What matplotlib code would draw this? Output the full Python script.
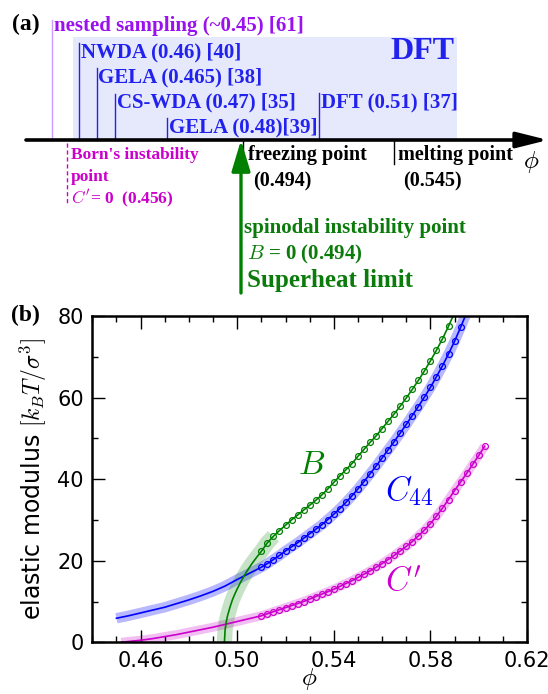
import matplotlib
matplotlib.use("Agg")
import matplotlib.pyplot as plt
from matplotlib.patches import Rectangle
from matplotlib.ticker import MultipleLocator

plt.rcParams['font.family'] = ['DejaVu Sans']
plt.rcParams['mathtext.fontset'] = 'cm'

# ---------------- data (panel b) ----------------
phi_grid = [0.5100, 0.5125, 0.5150, 0.5175, 0.5200, 0.5225, 0.5250, 0.5275,
            0.5300, 0.5325, 0.5350, 0.5375, 0.5400, 0.5425, 0.5450, 0.5475,
            0.5500, 0.5525, 0.5550, 0.5575, 0.5600, 0.5625, 0.5650, 0.5675,
            0.5700, 0.5725, 0.5750, 0.5775, 0.5800, 0.5825, 0.5850, 0.5875,
            0.5900, 0.5925, 0.5950, 0.5975, 0.6000, 0.6025]

B_circ = [22.3, 24.4, 26.0, 27.4, 28.7, 30.0, 31.2, 32.4, 33.6, 34.8, 36.1,
          37.6, 39.2, 40.8, 42.3, 43.8, 45.6, 47.3, 49.0, 50.6, 52.4, 54.2,
          56.0, 57.9, 59.9, 62.0, 64.2, 66.5, 69.0, 71.6, 74.4, 77.5]
C44_circ = [18.4, 19.3, 20.3, 21.3, 22.4, 23.4, 24.4, 25.5, 26.6, 27.7, 28.8,
            30.1, 31.4, 32.8, 34.3, 35.9, 37.6, 39.4, 41.3, 43.2, 45.2, 47.2,
            49.2, 51.3, 53.4, 55.6, 57.8, 60.1, 62.5, 65.1, 67.8, 70.7, 73.8,
            77.2]
Cp_circ = [6.5, 7.0, 7.5, 8.0, 8.5, 9.0, 9.5, 10.0, 10.6, 11.2, 11.8, 12.4,
           13.0, 13.7, 14.4, 15.1, 15.9, 16.7, 17.5, 18.4, 19.3, 20.3, 21.3,
           22.4, 23.5, 24.7, 26.1, 27.5, 29.1, 30.9, 32.9, 35.0, 37.2, 39.3,
           41.4, 43.6, 45.8, 48.1]

# extrapolated fit (below the first data point) and continuation past the top
B_ext_phi = [0.4947, 0.4950, 0.4955, 0.4960, 0.4970, 0.4980, 0.4990, 0.5000,
             0.5020, 0.5040, 0.5060, 0.5080]
B_ext = [0.0, 3.1, 5.1, 6.5, 8.6, 10.4, 11.8, 13.1, 15.4, 17.4, 19.2, 20.8]
C44_ext_phi = [0.450, 0.455, 0.460, 0.465, 0.470, 0.475, 0.480, 0.485, 0.490,
               0.495, 0.500, 0.505]
C44_ext = [5.9, 6.5, 7.2, 7.9, 8.6, 9.5, 10.4, 11.4, 12.5, 13.8, 15.4, 16.9]
Cp_ext_phi = [0.452, 0.455, 0.460, 0.465, 0.470, 0.475, 0.480, 0.485, 0.490,
              0.495, 0.500, 0.505]
Cp_ext = [0.0, 0.2, 0.5, 0.9, 1.4, 1.9, 2.5, 3.1, 3.7, 4.4, 5.1, 5.8]
B_top = ([0.5900], [80.8])
C44_top = ([0.5950], [80.8])

xticks = [0.46, 0.50, 0.54, 0.58, 0.62]
yticks = [0, 20, 40, 60, 80]

# ---------------- data (panel a, schematic) ----------------
dft_labels = ["NWDA (0.46) [40]", "GELA (0.465) [38]", "CS-WDA (0.47) [35]",
              "GELA (0.48)[39]", "DFT (0.51) [37]"]
nested_label = "nested sampling (~0.45) [61]"
born_lines = ["Born's instability", "point", "$C'$= 0  (0.456)"]
freeze_lines = ["freezing point", "(0.494)"]
melt_lines = ["melting point", "(0.545)"]
spinodal_lines = ["spinodal instability point", "$B$ = 0 (0.494)", "Superheat limit"]

# schematic layout (pixel positions in figure)
dft_x = [79.0, 96.5, 114.7, 166.8, 319.0]
dft_ytop = [43, 68, 94, 118, 93]
dft_ytext = [52, 77, 102, 127, 102]

GREEN = '#008000'
BLUE = '#0000ff'
MAG = '#cc00cc'
TGREEN = '#0b7b0b'
TBLUE = '#2222ee'
VIOLET = '#9a10ee'
SERIF = 'Liberation Serif'

fig = plt.figure(figsize=(5.48, 6.94), dpi=100)

# ---------------- panel (a) ----------------
axa = fig.add_axes([0, 0, 1, 1])
axa.set_xlim(0, 548)
axa.set_ylim(694, 0)
axa.axis('off')

axa.add_patch(Rectangle((73.4, 37.3), 457.3 - 73.4, 140 - 37.3,
                        facecolor='#e6e8fb', edgecolor='none', zorder=0))
axa.text(422, 51, "DFT", color=TBLUE, fontsize=23, fontweight='bold',
         family=SERIF, ha='center', va='center')

# nested sampling
axa.plot([51.7, 51.7], [20, 140], color='#cc99ff', lw=1.0)
axa.text(54, 26, nested_label, color=VIOLET, fontsize=15, fontweight='bold',
         family=SERIF, ha='left', va='center')

for lab, x, yt, ytx in zip(dft_labels, dft_x, dft_ytop, dft_ytext):
    axa.plot([x, x], [yt, 140], color=TBLUE, lw=1.0)
    axa.text(x + 2, ytx, lab, color=TBLUE, fontsize=15, fontweight='bold',
             family=SERIF, ha='left', va='center')

# main axis arrow
axa.annotate('', xy=(548, 140), xytext=(26, 140),
             arrowprops=dict(arrowstyle='-|>,head_length=1.0,head_width=0.25',
                             lw=2.6, color='k', mutation_scale=19,
                             shrinkA=0, shrinkB=0))
axa.text(531, 162, r'$\phi$', fontsize=18, ha='center', va='center')

# Born instability
axa.plot([66.5, 66.5], [143, 205], color=MAG, lw=1.0, ls=(0, (3, 2)))
for i, t in enumerate(born_lines):
    axa.text(70.7, 155 + 21.7 * i, t, color=MAG, fontsize=12.5,
             fontweight='bold', family=SERIF, ha='left', va='center')

# freezing / melting
axa.plot([242.7, 242.7], [140, 164], color='k', lw=1.0)
axa.plot([394, 394], [140, 164], color='k', lw=1.0)
axa.text(248.3, 155, freeze_lines[0], fontsize=14.5, fontweight='bold',
         family=SERIF, ha='left', va='center')
axa.text(253, 181, freeze_lines[1], fontsize=14.5, fontweight='bold',
         family=SERIF, ha='left', va='center')
axa.text(398, 155, melt_lines[0], fontsize=14.5, fontweight='bold',
         family=SERIF, ha='left', va='center')
axa.text(403, 181, melt_lines[1], fontsize=14.5, fontweight='bold',
         family=SERIF, ha='left', va='center')

# spinodal arrow
axa.annotate('', xy=(241, 140), xytext=(241, 293),
             arrowprops=dict(arrowstyle='-|>,head_length=1.0,head_width=0.3',
                             lw=2.4, color=GREEN, mutation_scale=19,
                             shrinkA=0, shrinkB=0))
axa.text(244.3, 228, spinodal_lines[0], color=TGREEN, fontsize=15,
         fontweight='bold', family=SERIF, ha='left', va='center')
axa.text(246.7, 254, spinodal_lines[1], color=TGREEN, fontsize=15,
         fontweight='bold', family=SERIF, ha='left', va='center')
axa.text(246.7, 280, spinodal_lines[2], color=TGREEN, fontsize=18,
         fontweight='bold', family=SERIF, ha='left', va='center')

axa.text(12, 24, "(a)", fontsize=17, fontweight='bold', family=SERIF,
         ha='left', va='center')
axa.text(11, 315, "(b)", fontsize=17, fontweight='bold', family=SERIF,
         ha='left', va='center')

# ---------------- panel (b) ----------------
ax = fig.add_axes([92.3 / 548, 51.7 / 694, 434.7 / 548, 326.3 / 694])
ax.set_xlim(0.44, 0.62)
ax.set_ylim(0, 80)


def series(ext_phi, ext_v, circ, top, color, band_all=True, band_lw=7.5,
           alpha=0.28):
    nc = len(circ)
    px = list(ext_phi) + phi_grid[:nc] + (list(top[0]) if top else [])
    pv = list(ext_v) + circ + (list(top[1]) if top else [])
    if band_all:
        ax.plot(px, pv, color=color, lw=band_lw, alpha=alpha,
                solid_capstyle='butt', zorder=1)
    else:
        bx = list(ext_phi) + phi_grid[:3]
        bv = list(ext_v) + circ[:3]
        ax.plot(bx, bv, color=color, lw=band_lw, alpha=alpha,
                solid_capstyle='butt', zorder=1)
    ax.plot(px, pv, color=color, lw=1.2, zorder=2)
    ax.plot(phi_grid[:nc], circ, 'o', mfc='none', mec=color, ms=4.2,
            mew=0.9, zorder=3)


series(C44_ext_phi, C44_ext, C44_circ, C44_top, BLUE, True, 7.5, 0.28)
series(Cp_ext_phi, Cp_ext, Cp_circ, None, MAG, True, 6.5, 0.25)
series(B_ext_phi, B_ext, B_circ, B_top, GREEN, False, 11, 0.22)

ax.text(0.5251, 43.6, r'$B$', color=GREEN, fontsize=24, ha='left', va='center')
ax.text(0.5613, 37.1, r'$C_{44}$', color=BLUE, fontsize=24, ha='left', va='center')
ax.text(0.5613, 14.7, r"$C'$", color=MAG, fontsize=24, ha='left', va='center')

ax.set_xticks(xticks)
ax.set_xticklabels([f"{v:.2f}" for v in xticks])
ax.set_yticks(yticks)
ax.xaxis.set_minor_locator(MultipleLocator(0.01))
ax.yaxis.set_minor_locator(MultipleLocator(10))
ax.tick_params(which='both', direction='in', top=True, right=True,
               labelsize=15, width=1.0)
ax.tick_params(which='major', length=9, pad=6)
ax.tick_params(which='minor', length=4.5)
for s in ax.spines.values():
    s.set_linewidth(1.8)
ax.set_xlabel(r'$\phi$', fontsize=18, labelpad=-3)
ax.set_ylabel(r'elastic modulus $[k_BT/\sigma^3]$', fontsize=17, labelpad=6)

fig.savefig('out.png', dpi=100)
